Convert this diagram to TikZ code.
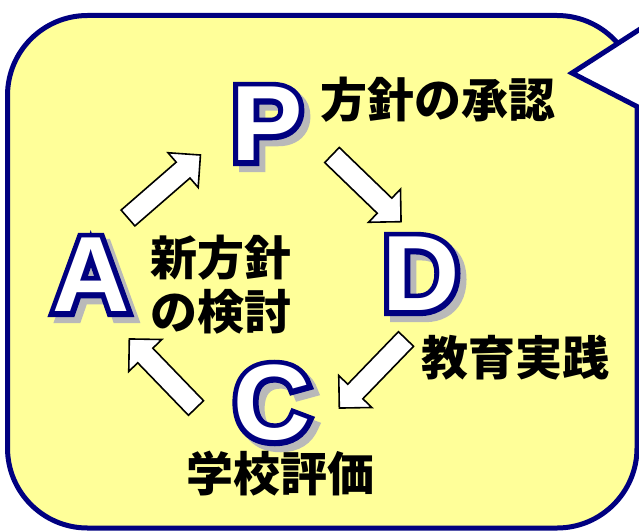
\documentclass[tikz,border=0pt]{standalone}
\usepackage{fontspec}
\setmainfont{Liberation Sans}
\newfontfamily\jpfont{Noto Sans CJK JP}
\newfontfamily\outlinefont{Liberation Sans}[BoldFeatures={FakeBold=10}]
\usetikzlibrary{positioning,calc}

\definecolor{bubblefill}{RGB}{255,255,153}
\definecolor{bubbleline}{RGB}{0,0,128}

\tikzset{
    letter/.style={text=white, inner sep=0pt, font=\bfseries\fontsize{107}{107}\selectfont},
    letteroutline/.style={letter, text=bubbleline, font=\outlinefont\bfseries\fontsize{107}{107}\selectfont},
    lettershadow/.style={letteroutline, text=gray!55},
    jptext/.style={inner sep=0pt, font=\jpfont\bfseries\fontsize{47}{54}\selectfont, align=left},
    arrowline/.style={draw=black, fill=white, line width=1.6pt, line join=miter},
    blockarrow/.pic={\path[arrowline] (0,-10.5) -- (73,-10.5) -- (73,-23) -- (96,0) -- (73,23) -- (73,10.5) -- (0,10.5) -- cycle;}
}

% shadow first, then the outline, then the white letter
\newcommand{\cycleletter}[3]{%
    \node[lettershadow] at ($(#2)+(6,6)$) {#3};
    \node[letteroutline] at (#2) {#3};
    \node[letter] (#1) at (#2) {#3};}

\begin{document}
\begin{tikzpicture}[x=1pt, y=-1pt]
    \useasboundingbox (0,0) rectangle (639,532);

    % speech bubble
    \draw[fill=bubblefill, draw=bubbleline, line width=5pt, rounded corners=80pt] (7.5,15.5) rectangle (637,528);
    \fill[white] (572,73) -- (665,13) -- (665,121) -- cycle;
    \draw[bubbleline, line width=5pt, line join=miter] (665,13) -- (572,73) -- (665,121);

    % cycle arrows
    \pic[rotate=-44] at (332,155) {blockarrow};
    \pic[rotate=-134] at (406,339) {blockarrow};
    \pic[rotate=134] at (196,408) {blockarrow};
    \pic[rotate=41] at (128,218) {blockarrow};

    % letters
    \cycleletter{P}{267,124}{P}
    \cycleletter{D}{421,274}{D}
    \cycleletter{C}{272,403}{C}
    \cycleletter{A}{91,275}{A}

    % labels
    \node[jptext, right=17pt of P, yshift=24pt] (Plabel) {方針の承認};
    \node[jptext, below=24pt of D, xshift=94pt] (Dlabel) {教育実践};
    \node[jptext, below=10pt of C, xshift=8pt] (Clabel) {学校評価};
    \node[jptext, right=20pt of A, yshift=-10pt] (Alabel) {新方針\\の検討};
\end{tikzpicture}
\end{document}
